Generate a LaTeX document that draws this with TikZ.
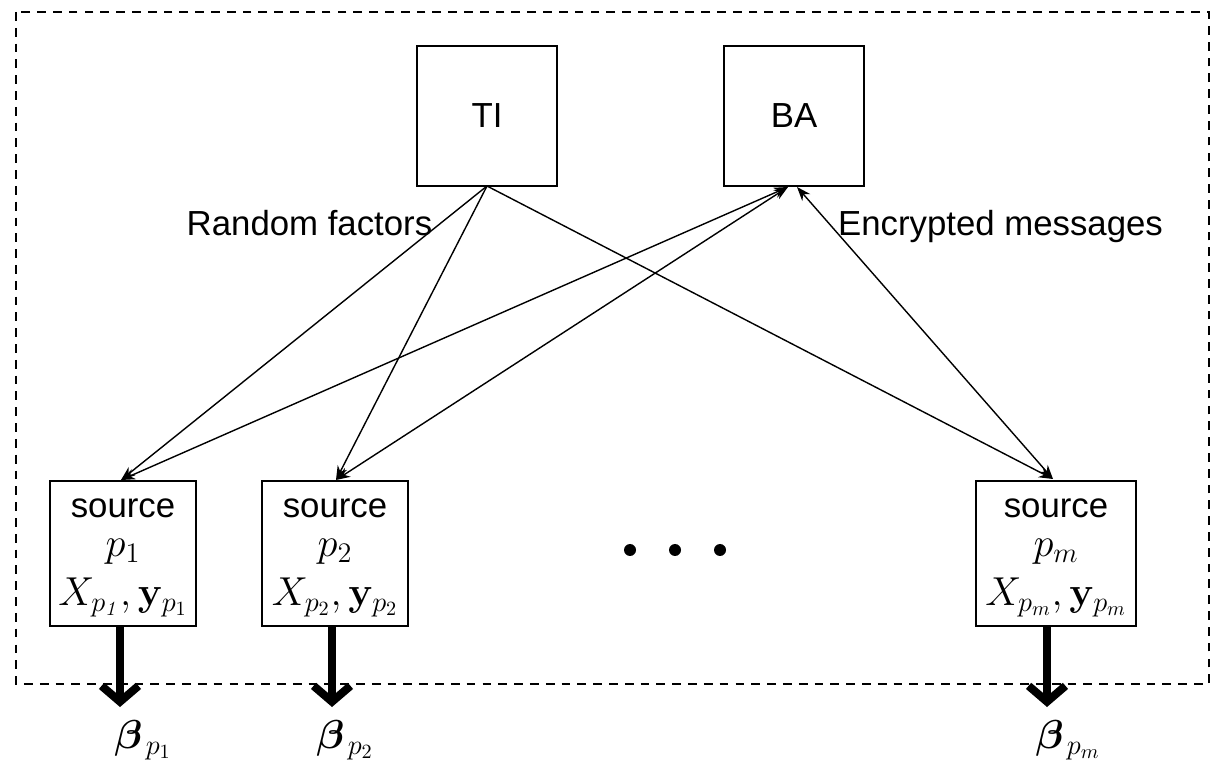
\RequirePackage{fix-cm}
\documentclass[tikz,border=0pt]{standalone}
\usepackage{amsmath}
\usepackage{bm}
\usepackage[no-math]{fontspec}
\setmainfont{Liberation Sans}
\usetikzlibrary{arrows.meta,calc}
\begin{document}
\begin{tikzpicture}[x=0.02cm,y=-0.02cm,
  bx/.style={draw,line width=0.9pt,inner sep=0pt,align=center},
  lbl/.style={font=\fontsize{19.8}{24}\selectfont},
  thin/.style={line width=0.8pt,-{Stealth[length=8pt,width=6pt]}},
  both/.style={line width=0.8pt,{Stealth[length=8pt,width=6pt]}-{Stealth[length=8pt,width=6pt]}},
  thick/.style={line width=4.6pt,-{Straight Barb[length=9pt,width=21pt]}},
  mathlbl/.style={font=\fontsize{23}{27}\selectfont}]
\useasboundingbox (0,0) rectangle (1228,773);
\draw[dashed,line width=0.8pt,dash pattern=on 5pt off 4pt] (16,12) rectangle (1209,684);
\node[bx,minimum width=140*0.02cm,minimum height=140*0.02cm,lbl] (TI) at (487,116) {TI};
\node[bx,minimum width=140*0.02cm,minimum height=140*0.02cm,lbl] (BA) at (794,116) {BA};
\node[bx,minimum width=146*0.02cm,minimum height=145*0.02cm] (s1) at (123,553.5) {};
\node[bx,minimum width=146*0.02cm,minimum height=145*0.02cm] (s2) at (335,553.5) {};
\node[bx,minimum width=160*0.02cm,minimum height=145*0.02cm] (sm) at (1056,553.5) {};
\node[lbl] (t1a) at (123,508) {source};
\node[mathlbl] (t1b) at (123,552) {$p_1$};
\node[mathlbl] (t1c) at (123,597) {$X_{p_{\mathit{1}}},\mathbf{y}_{p_1}$};
\node[lbl] (t2a) at (335,508) {source};
\node[mathlbl] (t2b) at (335,552) {$p_2$};
\node[mathlbl] (t2c) at (335,597) {$X_{p_2},\mathbf{y}_{p_2}$};
\node[lbl] (tma) at (1056,508) {source};
\node[mathlbl] (tmb) at (1056,552) {$p_m$};
\node[mathlbl] (tmc) at (1056,597) {$X_{p_m},\mathbf{y}_{p_m}$};
\node[lbl,anchor=base] (rf) at (309.5,236) {Random factors};
\node[lbl,anchor=base] (em) at (1000.5,236) {Encrypted messages};
\coordinate (TIo) at (487,186);
\coordinate (BAl) at (788,187);
\coordinate (BAr) at (797,187);
\coordinate (a1) at (121,480);
\coordinate (a2) at (336,480);
\coordinate (am) at (1053,479);
\draw[thin] (TIo) -- (a1);
\draw[thin] (TIo) -- (a2);
\draw[thin] (TIo) -- (am);
\draw[both] (a1) -- (BAl);
\draw[both] (a2) -- (BAl);
\draw[both] (am) -- (BAr);
\coordinate (d1) at (120,707);
\coordinate (d2) at (332,707);
\coordinate (dm) at (1047,707);
\draw[thick] (120,626) -- (d1);
\draw[thick] (332,626) -- (d2);
\draw[thick] (1047,626) -- (dm);
\node[mathlbl] (b1) at (143,740) {$\bm{\beta}_{\,p_1}$};
\node[mathlbl] (b2) at (345,740) {$\bm{\beta}_{\,p_2}$};
\node[mathlbl] (bm) at (1068,740) {$\bm{\beta}_{\,p_m}$};
\fill (630,550) circle (6) coordinate (dot1);
\fill (675,550) circle (6) coordinate (dot2);
\fill (720,550) circle (6) coordinate (dot3);
\end{tikzpicture}
\end{document}
